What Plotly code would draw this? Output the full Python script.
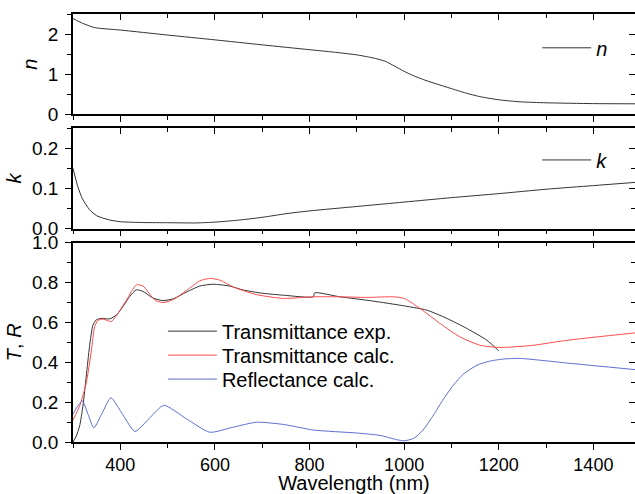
import plotly.graph_objects as go

# ---- optical constants ----
wl_n = [300, 320, 346, 400, 500, 600, 700, 800, 850, 900, 940, 960, 980, 1000,
        1020, 1044, 1070, 1097, 1130, 1160, 1200, 1245, 1300, 1400, 1488]
n_vals = [2.385, 2.27, 2.16, 2.10, 1.975, 1.855, 1.73, 1.61, 1.55, 1.48, 1.39, 1.32,
          1.20, 1.07, 0.96, 0.85, 0.75, 0.65, 0.53, 0.44, 0.36, 0.31, 0.285, 0.265, 0.26]

wl_k = [300, 310, 320, 335, 350, 375, 400, 450, 500, 560, 600, 650, 700, 750, 800,
        900, 1000, 1100, 1200, 1300, 1400, 1488]
k_vals = [0.150, 0.105, 0.074, 0.047, 0.032, 0.022, 0.017, 0.015, 0.0145, 0.014, 0.016,
          0.021, 0.028, 0.037, 0.044, 0.055, 0.066, 0.077, 0.087, 0.098, 0.107, 0.115]

# ---- transmittance / reflectance ----
wl_texp = [300, 307, 314, 321, 328, 335, 342, 349, 360, 377, 392, 406, 420, 434, 448,
           469, 490, 512, 540, 568, 596, 631, 660, 700, 745, 808, 811, 864, 921, 991,
           1048, 1090, 1132, 1175, 1200]
t_exp = [0.00, 0.03, 0.08, 0.18, 0.33, 0.48, 0.585, 0.612, 0.62, 0.617, 0.637, 0.68,
         0.73, 0.763, 0.755, 0.722, 0.709, 0.718, 0.752, 0.782, 0.791, 0.782, 0.762,
         0.746, 0.736, 0.728, 0.748, 0.728, 0.711, 0.686, 0.661, 0.62, 0.57, 0.51, 0.457]

wl_tcalc = [300, 314, 328, 339, 346, 353, 364, 381, 395, 413, 434, 448, 473, 490, 512,
            540, 568, 589, 610, 639, 688, 745, 808, 864, 921, 977, 1000, 1034, 1076,
            1118, 1161, 1203, 1273, 1344, 1488]
t_calc = [0.11, 0.18, 0.296, 0.46, 0.58, 0.61, 0.616, 0.604, 0.645, 0.712, 0.788, 0.782,
          0.712, 0.699, 0.714, 0.76, 0.808, 0.82, 0.812, 0.777, 0.739, 0.72, 0.728, 0.728,
          0.725, 0.728, 0.72, 0.669, 0.594, 0.527, 0.485, 0.474, 0.485, 0.51, 0.547]

wl_rcalc = [300, 310, 320, 332, 344, 362, 380, 405, 431, 461, 492, 540, 589, 638, 688,
            745, 808, 900, 949, 984, 1000, 1020, 1040, 1062, 1083, 1104, 1125, 1154,
            1180, 1210, 1245, 1344, 1488]
r_calc = [0.14, 0.18, 0.205, 0.138, 0.071, 0.146, 0.222, 0.138, 0.053, 0.118, 0.184,
          0.116, 0.049, 0.074, 0.099, 0.088, 0.06, 0.045, 0.033, 0.012, 0.006, 0.018,
          0.06, 0.135, 0.215, 0.285, 0.34, 0.385, 0.405, 0.416, 0.419, 0.396, 0.363]

X_RANGE = [300, 1488]
FONT = "Liberation Sans, Arial, sans-serif"
DARK = "#333333"
RED = "#ff4d4d"
BLUE = "#5b6fd1"

fig = go.Figure()

def curve(x, y, color, name, xa, ya, legend):
    fig.add_trace(go.Scatter(
        x=x, y=y, mode="lines", name=name, xaxis=xa, yaxis=ya, legend=legend,
        line=dict(color=color, width=1, shape="spline", smoothing=0.6),
        hoverinfo="skip"))

curve(wl_n, n_vals, DARK, "<i>n</i>", "x", "y", "legend")
curve(wl_k, k_vals, DARK, "<i>k</i>", "x2", "y2", "legend2")
curve(wl_texp, t_exp, DARK, "Transmittance exp.", "x3", "y3", "legend3")
curve(wl_tcalc, t_calc, RED, "Transmittance calc.", "x3", "y3", "legend4")
curve(wl_rcalc, r_calc, BLUE, "Reflectance calc.", "x3", "y3", "legend5")

# transparent companions so the top / right tick axes of each panel are drawn
for xa, ya, xs, ys in [("x4", "y4", wl_n, n_vals), ("x5", "y5", wl_k, k_vals),
                       ("x6", "y6", wl_rcalc, r_calc)]:
    fig.add_trace(go.Scatter(x=xs, y=ys, mode="lines", xaxis=xa, yaxis=ya,
                             line=dict(width=0), opacity=0, showlegend=False,
                             hoverinfo="skip"))

domains = {1: [0.7658, 1.0], 2: [0.4987, 0.7331], 3: [0.0, 0.466]}
y_ranges = {1: [0, 2.5], 2: [0, 0.25], 3: [0, 1.0]}
y_dticks = {1: 1, 2: 0.1, 3: 0.2}
y_minor = {1: 0.5, 2: 0.05, 3: 0.1}
y_fmt = {1: "d", 2: ".1f", 3: ".1f"}
y_titles = {1: "<i>n</i>", 2: "<i>k</i>", 3: "<i>T</i>, <i>R</i>"}

axis_common = dict(showgrid=False, zeroline=False, showline=True, linecolor="black",
                   linewidth=1.6, tickcolor="black", tickwidth=1.2,
                   tickfont=dict(family=FONT, size=19, color="black"))

layout = {}
for i in (1, 2, 3):
    sx = "" if i == 1 else str(i)
    # bottom x axis of panel i
    layout["xaxis" + sx] = dict(
        axis_common, range=X_RANGE, anchor="y" + sx, domain=[0, 1],
        tick0=400, dtick=200, ticks="outside", ticklen=6,
        minor=dict(dtick=100, tick0=400, ticks="outside", ticklen=4,
                   tickcolor="black", tickwidth=1.2),
        showticklabels=(i == 3), ticklabelstandoff=0,
        tickfont=dict(family=FONT, size=18, color="black"),
        title=dict(text="Wavelength (nm)" if i == 3 else "",
                   font=dict(family=FONT, size=20, color="black"), standoff=5))
    # left y axis of panel i
    layout["yaxis" + sx] = dict(
        axis_common, range=y_ranges[i], domain=domains[i], anchor="x" + sx,
        dtick=y_dticks[i], tick0=0, ticks="outside", ticklen=6, tickformat=y_fmt[i],
        minor=dict(dtick=y_minor[i], tick0=0, ticks="outside", ticklen=4,
                   tickcolor="black", tickwidth=1.2),
        ticklabelstandoff=3,
        title=dict(text=y_titles[i], font=dict(family=FONT, size=20, color="black"),
                   standoff=5))
    # top x axis / right y axis with inward ticks
    ox, oy = str(i + 3), str(i + 3)
    layout["xaxis" + ox] = dict(
        axis_common, range=X_RANGE, overlaying="x" + sx, side="top", anchor="y" + oy,
        tick0=400, dtick=200, ticks="inside", ticklen=6,
        minor=dict(dtick=100, tick0=400, ticks="inside", ticklen=4,
                   tickcolor="black", tickwidth=1.2),
        showticklabels=False)
    layout["yaxis" + oy] = dict(
        axis_common, range=y_ranges[i], overlaying="y" + sx, side="right",
        anchor="x" + ox, showline=False, dtick=y_dticks[i], tick0=0,
        ticks="inside", ticklen=6,
        minor=dict(dtick=y_minor[i], tick0=0, ticks="inside", ticklen=4,
                   tickcolor="black", tickwidth=1.2),
        showticklabels=False)

legend_base = dict(bgcolor="rgba(0,0,0,0)", borderwidth=0, itemwidth=49,
                   xanchor="left", yanchor="middle",
                   font=dict(family=FONT, size=20, color="black"))
layout["legend"] = dict(legend_base, x=0.826, y=0.921)
layout["legend2"] = dict(legend_base, x=0.826, y=0.659)
layout["legend3"] = dict(legend_base, x=0.16, y=0.259)
layout["legend4"] = dict(legend_base, x=0.16, y=0.203)
layout["legend5"] = dict(legend_base, x=0.16, y=0.147)

fig.update_layout(
    **layout,
    width=635, height=494,
    margin=dict(l=73, r=0, t=14, b=52),
    paper_bgcolor="white", plot_bgcolor="white",
    font=dict(family=FONT, color="black"),
)

fig.write_html("out.html")
